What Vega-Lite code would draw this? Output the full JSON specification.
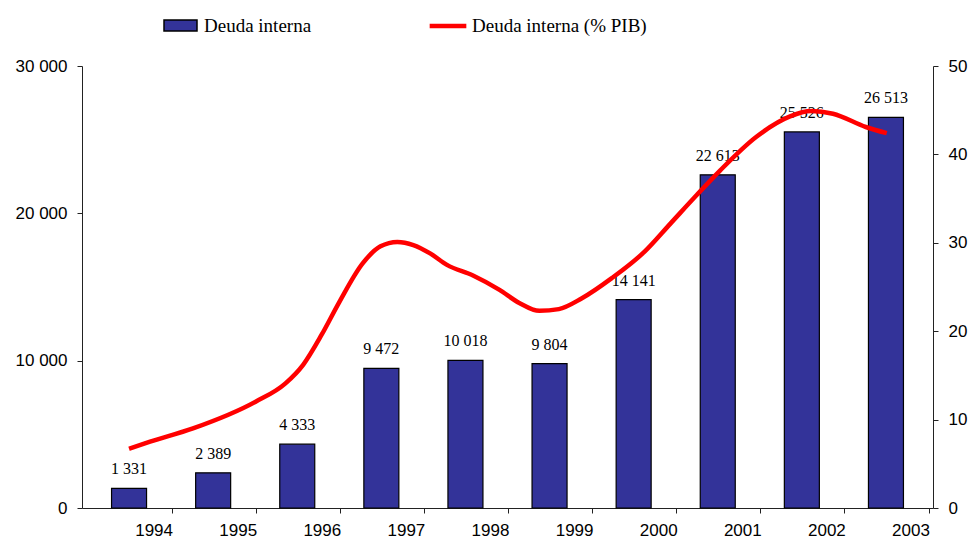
{
  "$schema": "https://vega.github.io/schema/vega-lite/v6.json",
  "width": 851,
  "height": 442,
  "autosize": {"type": "none"},
  "padding": {"left": 82, "top": 66, "right": 39, "bottom": 36},
  "background": "white",
  "config": {
    "locale": {"number": {"decimal": ",", "thousands": " ", "grouping": [3], "currency": ["", ""]}},
    "view": {"stroke": null},
    "axis": {
      "labelFont": "Liberation Sans",
      "labelFontSize": 17,
      "labelColor": "#000000",
      "domainColor": "#222222",
      "tickColor": "#222222",
      "tickSize": 5,
      "grid": false,
      "title": null
    },
    "legend": {
      "labelFont": "Liberation Serif",
      "labelFontSize": 19,
      "labelColor": "#000000",
      "labelLimit": 0,
      "padding": 0,
      "title": null
    }
  },
  "datasets": {
    "bars": [
      {"year": 1994, "value": 1331},
      {"year": 1995, "value": 2389},
      {"year": 1996, "value": 4333},
      {"year": 1997, "value": 9472},
      {"year": 1998, "value": 10018},
      {"year": 1999, "value": 9804},
      {"year": 2000, "value": 14141},
      {"year": 2001, "value": 22613},
      {"year": 2002, "value": 25526},
      {"year": 2003, "value": 26513}
    ],
    "pib": [
      {"t": 1994.0, "pct": 6.7},
      {"t": 1994.25, "pct": 7.5},
      {"t": 1994.76, "pct": 9.0},
      {"t": 1995.5, "pct": 12.0},
      {"t": 1995.86, "pct": 14.1},
      {"t": 1996.07, "pct": 16.2},
      {"t": 1996.29, "pct": 19.6},
      {"t": 1996.5, "pct": 23.3},
      {"t": 1996.78, "pct": 27.7},
      {"t": 1996.99, "pct": 29.6},
      {"t": 1997.19, "pct": 30.1},
      {"t": 1997.38, "pct": 29.75},
      {"t": 1997.58, "pct": 28.8},
      {"t": 1997.78, "pct": 27.5},
      {"t": 1998.09, "pct": 26.3},
      {"t": 1998.4, "pct": 24.7},
      {"t": 1998.64, "pct": 23.2},
      {"t": 1998.88, "pct": 22.3},
      {"t": 1999.11, "pct": 22.5},
      {"t": 1999.38, "pct": 23.7},
      {"t": 1999.74, "pct": 26.0},
      {"t": 2000.13, "pct": 29.0},
      {"t": 2000.44, "pct": 32.2},
      {"t": 2000.75, "pct": 35.4},
      {"t": 2001.03, "pct": 38.2},
      {"t": 2001.46, "pct": 42.0},
      {"t": 2001.86, "pct": 44.3},
      {"t": 2002.11, "pct": 44.9},
      {"t": 2002.37, "pct": 44.6},
      {"t": 2002.76, "pct": 43.1},
      {"t": 2003.01, "pct": 42.4}
    ]
  },
  "layer": [
    {
      "data": {"name": "bars"},
      "layer": [
        {
          "mark": {"type": "bar", "size": 35, "stroke": "#000000", "strokeWidth": 1.2},
          "encoding": {
            "x": {
              "field": "year", "type": "quantitative",
              "scale": {"domain": [1993.5, 2003.5], "nice": false, "zero": false},
              "axis": {
                "values": [1993, 1994, 1995, 1996, 1997, 1998, 1999, 2000, 2001, 2002, 2003],
                "format": "d",
                "tickOffset": 42.55,
                "labelOffset": -18,
                "labelPadding": 9,
                "labelOverlap": false,
                "labelBound": false,
                "labelFlush": false,
                "labelExpr": "datum.value < 1994 ? '' : datum.label"
              }
            },
            "y": {
              "field": "value", "type": "quantitative",
              "scale": {"domain": [0, 30000], "nice": false},
              "axis": {"values": [0, 10000, 20000, 30000], "format": ",d", "labelPadding": 10, "orient": "left"}
            },
            "fill": {
              "datum": "Deuda interna", "type": "nominal",
              "scale": {"range": ["#333399"]},
              "legend": {
                "orient": "none", "legendX": 81, "legendY": -58,
                "direction": "horizontal",
                "symbolType": "M-1,-0.333H1V0.333H-1Z",
                "symbolSize": 1089,
                "symbolStrokeColor": "#000000",
                "symbolStrokeWidth": 1.5,
                "symbolOpacity": 1,
                "labelOffset": 6
              }
            }
          }
        },
        {
          "mark": {"type": "text", "font": "Liberation Serif", "fontSize": 16, "color": "#000000", "baseline": "alphabetic", "dy": -14},
          "encoding": {
            "x": {"field": "year", "type": "quantitative"},
            "y": {"field": "value", "type": "quantitative"},
            "text": {"field": "value", "type": "quantitative", "format": ",d"}
          }
        }
      ]
    },
    {
      "data": {"name": "pib"},
      "mark": {"type": "line", "strokeWidth": 4.5, "interpolate": "monotone"},
      "encoding": {
        "x": {"field": "t", "type": "quantitative"},
        "y": {
          "field": "pct", "type": "quantitative",
          "scale": {"domain": [0, 50], "nice": false},
          "axis": {"orient": "right", "values": [0, 10, 20, 30, 40, 50], "labelPadding": 10}
        },
        "stroke": {
          "datum": "Deuda interna (% PIB)", "type": "nominal",
          "scale": {"range": ["#ff0000"]},
          "legend": {
            "orient": "none", "legendX": 345, "legendY": -61,
            "direction": "horizontal",
            "symbolType": "stroke",
            "symbolSize": 1344,
            "symbolStrokeWidth": 4.5,
            "labelOffset": 3
          }
        }
      }
    }
  ],
  "resolve": {"scale": {"y": "independent", "fill": "independent", "stroke": "independent"}, "legend": {"fill": "independent", "stroke": "independent"}}
}
